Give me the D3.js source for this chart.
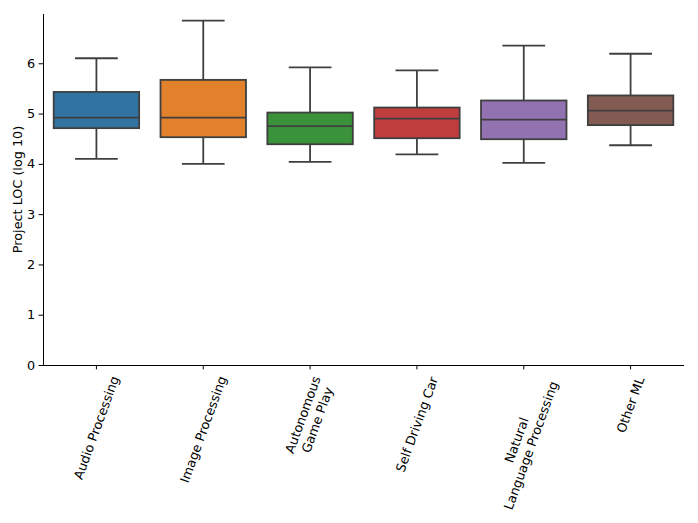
<!DOCTYPE html>
<html>
<head>
<meta charset="utf-8">
<script src="https://cdn.jsdelivr.net/npm/d3@7"></script>
<style>
    body { margin: 0; background: #fff; }
    svg { font-family: "DejaVu Sans", sans-serif; }
</style>
</head>
<body>
<div id="chart"></div>
<script>
    // categories (line breaks as in the original labels)
    var categories = ["Audio Processing", "Image Processing", "Autonomous\nGame Play",
        "Self Driving Car", "Natural\nLanguage Processing", "Other ML"];
    // box statistics, log10 of LOC
    var whiskerLow = [4.10, 4.00, 4.04, 4.19, 4.02, 4.37];
    var q1 = [4.71, 4.53, 4.39, 4.51, 4.49, 4.77];
    var medians = [4.92, 4.92, 4.75, 4.90, 4.88, 5.06];
    var q3 = [5.43, 5.67, 5.02, 5.12, 5.26, 5.36];
    var whiskerHigh = [6.10, 6.85, 5.92, 5.86, 6.35, 6.19];
    var yTicks = [0, 1, 2, 3, 4, 5, 6];

    var colors = ["#3274a1", "#e1812c", "#3a923a", "#c03d3e", "#9372b2", "#845b53"];
    var lineColor = "#3f3f3f";

    var width = 698, height = 523;
    var margin = { top: 14, right: 14, bottom: 158, left: 43 };
    var fontSize = 12.8;

    var svg = d3.select("#chart").append("svg")
        .attr("width", width)
        .attr("height", height);

    var x = d3.scaleBand()
        .domain(d3.range(categories.length))
        .range([margin.left, width - margin.right]);

    var y = d3.scaleLinear()
        .domain([0, 6.98])
        .range([height - margin.bottom, margin.top]);

    var boxW = x.bandwidth() * 0.8;
    var capW = boxW * 0.5;

    var data = categories.map(function(c, i) {
        return { name: c, lo: whiskerLow[i], q1: q1[i], med: medians[i], q3: q3[i], hi: whiskerHigh[i], i: i };
    });

    var box = svg.selectAll(".box")
        .data(data)
        .enter().append("g")
        .attr("class", "box")
        .attr("transform", function(d) {
            return "translate(" + (x(d.i) + x.bandwidth() / 2) + ",0)";
        });

    // whiskers
    box.append("line")
        .attr("x1", 0).attr("x2", 0)
        .attr("y1", function(d) { return y(d.hi); })
        .attr("y2", function(d) { return y(d.q3); })
        .attr("stroke", lineColor).attr("stroke-width", 1.8);
    box.append("line")
        .attr("x1", 0).attr("x2", 0)
        .attr("y1", function(d) { return y(d.q1); })
        .attr("y2", function(d) { return y(d.lo); })
        .attr("stroke", lineColor).attr("stroke-width", 1.8);
    // caps
    ["hi", "lo"].forEach(function(k) {
        box.append("line")
            .attr("x1", -capW / 2).attr("x2", capW / 2)
            .attr("y1", function(d) { return y(d[k]); })
            .attr("y2", function(d) { return y(d[k]); })
            .attr("stroke", lineColor).attr("stroke-width", 1.8);
    });

    box.append("rect")
        .attr("x", -boxW / 2)
        .attr("width", boxW)
        .attr("y", function(d) { return y(d.q3); })
        .attr("height", function(d) { return y(d.q1) - y(d.q3); })
        .attr("fill", function(d) { return colors[d.i]; })
        .attr("stroke", lineColor)
        .attr("stroke-width", 1.8);

    box.append("line")
        .attr("x1", -boxW / 2).attr("x2", boxW / 2)
        .attr("y1", function(d) { return y(d.med); })
        .attr("y2", function(d) { return y(d.med); })
        .attr("stroke", lineColor).attr("stroke-width", 1.8);

    // y axis
    var yAxis = svg.append("g")
        .attr("transform", "translate(" + margin.left + ",0)")
        .call(d3.axisLeft(y).tickValues(yTicks).tickSize(4.4).tickPadding(3.5).tickFormat(d3.format("d")));
    yAxis.selectAll("text").attr("font-size", fontSize).attr("fill", "#000").attr("font-family", "DejaVu Sans");
    yAxis.select(".domain").attr("d", "M0.5," + y(0) + "V" + margin.top);

    // x axis
    var xAxis = svg.append("g")
        .attr("transform", "translate(0," + y(0) + ")")
        .call(d3.axisBottom(x).tickSize(4.4).tickFormat(""));
    xAxis.select(".domain").attr("d", "M" + margin.left + ",0.5H" + (width - margin.right));

    // rotated category labels, bbox centred under each tick
    var labels = svg.append("g").selectAll(".xlab")
        .data(data)
        .enter().append("g")
        .attr("class", "xlab");

    labels.each(function(d) {
        var g = d3.select(this);
        var inner = g.append("g").attr("transform", "rotate(-70)");
        var lines = d.name.split("\n");
        var t = inner.append("text")
            .attr("font-size", fontSize)
            .attr("text-anchor", "middle");
        lines.forEach(function(s, j) {
            t.append("tspan")
                .attr("x", 0)
                .attr("dy", j === 0 ? 0 : fontSize * 1.2)
                .text(s);
        });
        var b = this.getBBox();
        var cx = x(d.i) + x.bandwidth() / 2;
        var top = y(0) + 4.4 + 4.5;
        g.attr("transform", "translate(" + (cx - (b.x + b.width / 2)) + "," + (top - b.y) + ")");
    });

    // y label
    svg.append("text")
        .attr("transform", "translate(22," + ((y(0) + margin.top) / 2) + ") rotate(-90)")
        .attr("text-anchor", "middle")
        .attr("font-size", fontSize)
        .text("Project LOC (log 10)");
</script>
</body>
</html>
